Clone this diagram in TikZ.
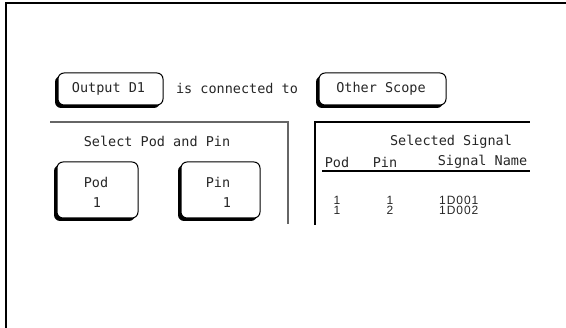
\documentclass[tikz,border=0pt]{standalone}
\usepackage{fontspec}
\setmainfont{Liberation Sans}
\setmonofont{DejaVu Sans Mono}
\usetikzlibrary{shadows}
\begin{document}
\begin{tikzpicture}[x=1pt,y=-1pt,
  btn/.style={draw=black, line width=1pt, fill=white, rounded corners=6pt, inner sep=0pt,
    drop shadow={shadow xshift=-3pt, shadow yshift=-3pt, fill=black, opacity=1}},
  mono/.style={font=\ttfamily\fontsize{13.5}{15}\selectfont, inner sep=0pt, text=black!85},
  prop/.style={font=\fontsize{12}{13}\selectfont\addfontfeature{LetterSpace=8}, inner sep=0pt, text=black!85},
  frameline/.style={line width=2.4pt},
  panelL/.style={draw=black!60, line width=1.4pt},
  panelR/.style={draw=black, line width=1.1pt}]
\useasboundingbox (0,0) rectangle (566,328);
\draw[frameline] (6,328) -- (6,3) -- (566,3);
% top row
\node[btn, minimum width=105pt, minimum height=32pt] (out) at (110.5,89) {};
\node[mono] (outt) at (108.5,89) {Output D1};
\node[mono] (conn) at (237,88) {is connected to};
\node[btn, minimum width=127pt, minimum height=32pt] (oth) at (382.5,89) {};
\node[mono] (otht) at (381,89) {Other Scope};
% left panel
\draw[panelL] (50,122) -- (288,122) -- (288,224);
\node[mono] (sel) at (157,141) {Select Pod and Pin};
\node[btn, minimum width=81pt, minimum height=56pt] (pod) at (97.5,190) {};
\node[mono] (podt) at (96,182) {Pod};
\node[mono] (podv) at (97,203) {1};
\node[btn, minimum width=79pt, minimum height=56pt] (pin) at (220.5,190) {};
\node[mono] (pint) at (218,182) {Pin};
\node[mono] (pinv) at (227,203) {1};
% right panel
\draw[panelR] (315,225) -- (315,122) -- (530,122);
\node[mono] (ss) at (451,142) {Selected Signal};
\node[mono] (hpod) at (337,162) {Pod};
\node[mono] (hpin) at (385,162) {Pin};
\node[mono] (hname) at (482.5,162) {Signal Name};
\draw[panelR] (322,171) -- (530,171);
\node[prop] (r1a) at (337,200) {1};
\node[prop] (r1b) at (390,200) {1};
\node[prop, anchor=west] (r1c) at (439,200) {1D001};
\node[prop] (r2a) at (337,210.5) {1};
\node[prop] (r2b) at (390,210.5) {2};
\node[prop, anchor=west] (r2c) at (439,210.5) {1D002};
\end{tikzpicture}
\end{document}
